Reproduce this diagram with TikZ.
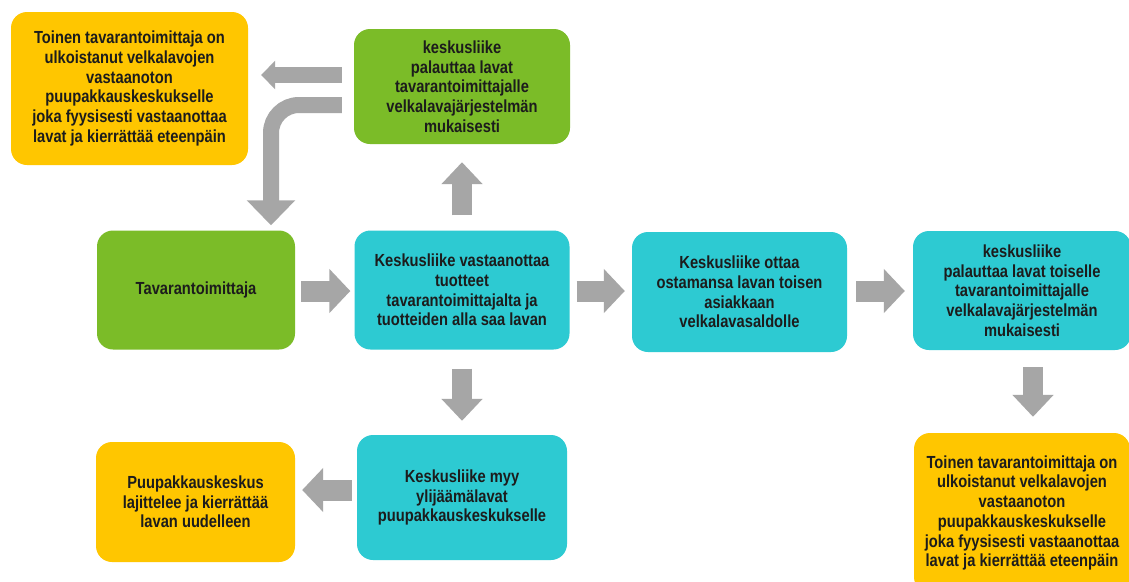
\documentclass[tikz,border=0pt]{standalone}
\usepackage{fontspec}
\setmainfont[FakeStretch=0.84]{Liberation Sans}
\usetikzlibrary{arrows.meta}
\definecolor{boxgold}{HTML}{FFC600}
\definecolor{boxlime}{HTML}{7BBC28}
\definecolor{boxcyan}{HTML}{2DCAD2}
\definecolor{arrowgray}{HTML}{A6A6A6}
\definecolor{inkdark}{HTML}{1C1C1C}
\begin{document}
\begin{tikzpicture}[x=1pt,y=-1pt,
  box/.style={rounded corners=16pt, align=center, inner sep=0pt,
    font=\fontsize{17.5pt}{19.7pt}\selectfont\bfseries, text=inkdark},
  goldbox/.style={box, fill=boxgold},
  limebox/.style={box, fill=boxlime},
  cyanbox/.style={box, fill=boxcyan},
  bigarrow/.style={draw=arrowgray, line width=21pt,
    -{Triangle[length=21pt,width=43pt]}},
  vertarrow/.style={draw=arrowgray, line width=20pt,
    -{Triangle[length=22pt,width=40pt]}},
  thinarrow/.style={draw=arrowgray, line width=16pt,
    -{Triangle[length=14pt,width=28pt]}},
  bendarrow/.style={draw=arrowgray, line width=16pt, rounded corners=28pt,
    -{Triangle[length=25pt,width=47pt]}}
]
\clip (0,0) rectangle (1129,581);
\fill[white] (0,0) rectangle (1129,581);

% boxes
\node[goldbox, minimum width=237pt, minimum height=153pt] (tl) at (129.5,88.5)
  {Toinen tavarantoimittaja on\\ulkoistanut velkalavojen\\vastaanoton\\puupakkauskeskukselle\\joka fyysisesti vastaanottaa\\lavat ja kierrättää eteenpäin};
\node[limebox, minimum width=216pt, minimum height=115pt] (topg) at (462,86.5)
  {keskusliike\\palauttaa lavat\\tavarantoimittajalle\\velkalavajärjestelmän\\mukaisesti};
\node[limebox, minimum width=198pt, minimum height=119pt] (tav) at (196,290)
  {Tavarantoimittaja};
\node[cyanbox, minimum width=215pt, minimum height=119pt] (ctr) at (462,290)
  {Keskusliike vastaanottaa\\tuotteet\\tavarantoimittajalta ja\\tuotteiden alla saa lavan};
\node[cyanbox, minimum width=215pt, minimum height=120pt] (mid) at (739.5,292)
  {Keskusliike ottaa\\ostamansa lavan toisen\\asiakkaan\\velkalavasaldolle};
\node[cyanbox, minimum width=218pt, minimum height=119pt] (rc) at (1022,290.5)
  {keskusliike\\palauttaa lavat toiselle\\tavarantoimittajalle\\velkalavajärjestelmän\\mukaisesti};
\node[cyanbox, minimum width=210pt, minimum height=125pt] (bc) at (462,497.5)
  {Keskusliike myy\\ylijäämälavat\\puupakkauskeskukselle};
\node[goldbox, minimum width=199pt, minimum height=120pt] (yl) at (195.5,502)
  {Puupakkauskeskus\\lajittelee ja kierrättää\\lavan uudelleen};
\node[goldbox, minimum width=216pt, minimum height=160pt] (yr) at (1022,513)
  {Toinen tavarantoimittaja on\\ulkoistanut velkalavojen\\vastaanoton\\puupakkauskeskukselle\\joka fyysisesti vastaanottaa\\lavat ja kierrättää eteenpäin};

% arrows
\draw[thinarrow] ([xshift=-12pt,yshift=11.5pt]topg.west) -- ([xshift=13pt,yshift=13.5pt]tl.east);
\draw[bendarrow] ([xshift=-12pt,yshift=-18.5pt]topg.west) -| ([xshift=75pt,yshift=5pt]tav.north);
\draw[vertarrow] ([yshift=15pt]ctr.north) -- ([yshift=-18pt]topg.south);
\draw[bigarrow] ([xshift=6pt,yshift=-1pt]tav.east) -- ([xshift=-4pt,yshift=-1pt]ctr.west);
\draw[bigarrow] ([xshift=7pt,yshift=-1pt]ctr.east) -- ([xshift=-7pt,yshift=1pt]mid.west);
\draw[bigarrow] ([xshift=9pt,yshift=1pt]mid.east) -- ([xshift=-8pt,yshift=-0.5pt]rc.west);
\draw[vertarrow] ([yshift=-19pt]ctr.south) -- ([yshift=14pt]bc.north);
\draw[vertarrow] ([xshift=11pt,yshift=-17pt]rc.south) -- ([xshift=11pt,yshift=16pt]yr.north);
\draw[bigarrow] ([xshift=-5pt,yshift=7.5pt]bc.west) -- ([xshift=7pt,yshift=12pt]yl.east);
\end{tikzpicture}
\end{document}
